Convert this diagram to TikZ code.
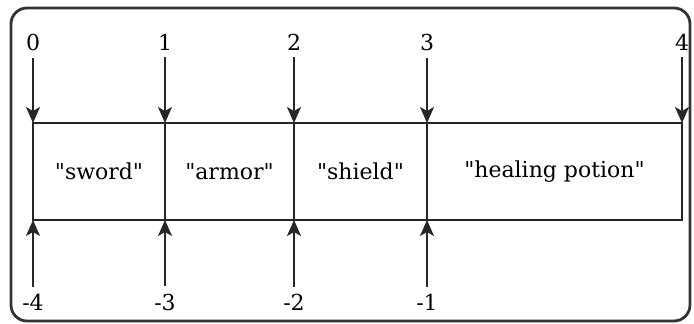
\documentclass[tikz,border=0pt]{standalone}
\usepackage{fontspec}
\setmainfont{DejaVu Serif}
\usetikzlibrary{arrows.meta,positioning}
\newcommand{\strq}[1]{\textquotedbl#1\textquotedbl}

\begin{document}
\begin{tikzpicture}[x=1pt, y=-1pt,
        cellbox/.style={rectangle, draw=black!85, line width=1.8pt,
                        minimum height=97pt, inner sep=0pt, outer sep=0pt,
                        font=\fontsize{22}{26}\selectfont},
        idxlbl/.style={inner sep=0pt, font=\fontsize{22}{26}\selectfont},
        ptr/.style={-{Stealth[length=16pt,width=14pt,inset=4pt]}, line width=1.8pt, black!85,
                    shorten <=7pt}
      ]
        \useasboundingbox (0,0) rectangle (694,324);
        \draw[line width=2.8pt, black!80, rounded corners=16pt] (11,8) rectangle (690,321);
        % array cells
        \node[cellbox, minimum width=132pt, anchor=north west] (c0) at (33,123) {\strq{sword}};
        \node[cellbox, minimum width=129pt, right=0pt of c0] (c1) {\strq{armor}};
        \node[cellbox, minimum width=133pt, right=0pt of c1] (c2) {\strq{shield}};
        \node[cellbox, minimum width=255pt, right=0pt of c2] (c3) {\strq{healing potion}};
        % positive indices
        \node[idxlbl] (p0) at (33,42) {0};
        \node[idxlbl] (p1) at (165,42) {1};
        \node[idxlbl] (p2) at (294,42) {2};
        \node[idxlbl] (p3) at (427,42) {3};
        \node[idxlbl] (p4) at (682,42) {4};
        \draw[ptr] (p0) -- (c0.north west);
        \draw[ptr] (p1) -- (c1.north west);
        \draw[ptr] (p2) -- (c2.north west);
        \draw[ptr] (p3) -- (c3.north west);
        \draw[ptr] (p4) -- (c3.north east);
        % negative indices
        \node[idxlbl] (n4) at (33,302) {-4};
        \node[idxlbl] (n3) at (165,302) {-3};
        \node[idxlbl] (n2) at (294,302) {-2};
        \node[idxlbl] (n1) at (427,302) {-1};
        \draw[ptr] (n4.north -| c0.south west) -- (c0.south west);
        \draw[ptr] (n3.north -| c1.south west) -- (c1.south west);
        \draw[ptr] (n2.north -| c2.south west) -- (c2.south west);
        \draw[ptr] (n1.north -| c3.south west) -- (c3.south west);
      \end{tikzpicture}
\end{document}
